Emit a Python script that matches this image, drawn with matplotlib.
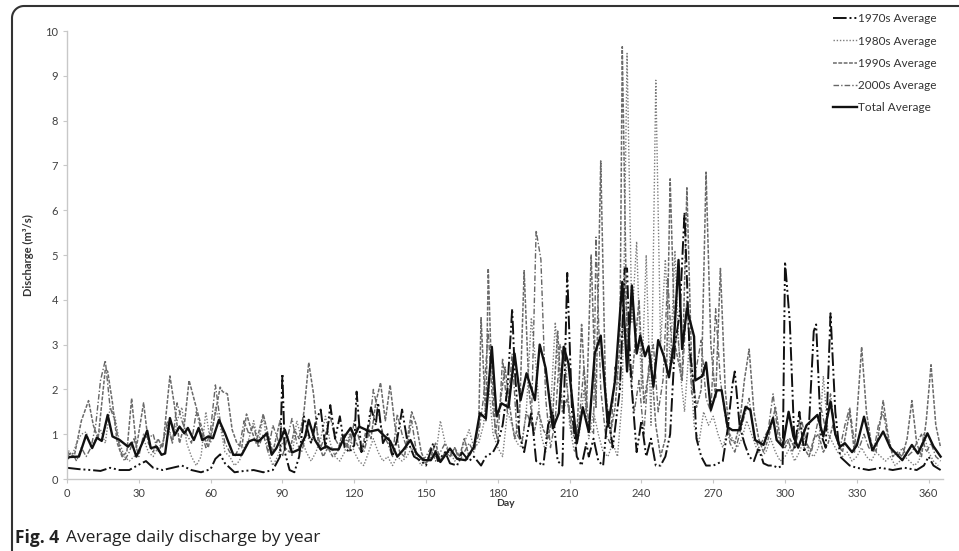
import numpy as np
import matplotlib
matplotlib.use('Agg')
import matplotlib.pyplot as plt
from matplotlib.lines import Line2D

plt.rcParams['font.family'] = ['Lato', 'DejaVu Sans']

# --- data (day, discharge m3/s) at turning points ---
d70 = [0, 5, 10, 14, 18, 22, 26, 30, 33, 36, 40, 44, 48, 52, 56, 60, 62, 64, 66, 70, 74, 78, 82, 86, 89, 90, 91,
       93, 95, 97, 99, 102, 104, 106, 108, 110, 112, 114, 116, 118, 120, 121, 123, 125, 127, 129, 130, 132, 134,
       136, 138, 140, 142, 145, 148, 150, 153, 155, 158, 160, 163, 165, 168, 170, 173, 175, 178, 180, 182, 184,
       186, 187, 189, 191, 194, 196, 199, 201, 203, 205, 207, 209, 211, 213, 215, 217, 218, 220, 222, 224, 226,
       228, 231, 233, 234, 235, 236, 238, 240, 242, 244, 246, 248, 250, 252, 254, 256, 258, 260, 262, 263, 265,
       267, 270, 272, 274, 276, 278, 279, 281, 283, 285, 287, 289, 291, 293, 295, 297, 299, 300, 302, 304, 306,
       308, 310, 312, 313, 315, 317, 319, 321, 323, 325, 327, 330, 335, 340, 345, 350, 355, 358, 360, 362, 365]
v70 = [0.25, 0.22, 0.2, 0.18, 0.25, 0.2, 0.2, 0.32, 0.4, 0.25, 0.2, 0.25, 0.3, 0.2, 0.15, 0.22, 0.45, 0.55, 0.35,
       0.15, 0.18, 0.2, 0.15, 0.2, 0.5, 2.35, 0.6, 0.2, 0.15, 0.5, 1.4, 0.8, 1.3, 1.55, 0.7, 1.65, 0.9, 1.4, 0.7,
       0.6, 0.75, 1.95, 0.6, 0.9, 1.6, 1.2, 1.7, 0.8, 1.0, 0.5, 0.9, 1.55, 0.9, 0.5, 0.4, 0.3, 0.8, 0.4, 0.6,
       0.35, 0.3, 0.6, 0.4, 0.5, 0.3, 0.5, 0.6, 0.8, 1.2, 2.0, 3.8, 2.5, 1.0, 0.6, 1.5, 0.4, 0.3, 1.2, 1.5, 0.4,
       0.3, 4.6, 1.5, 0.5, 0.3, 0.8, 0.5, 0.9, 0.4, 0.3, 1.5, 0.7, 2.0, 4.7, 4.7, 3.0, 2.0, 0.6, 1.3, 0.5, 0.9,
       0.3, 0.3, 0.5, 1.0, 3.0, 3.7, 5.95, 3.0, 2.0, 0.9, 0.5, 0.3, 0.3, 0.35, 0.4, 1.1, 2.1, 2.4, 1.2, 0.8, 0.5,
       0.4, 0.7, 0.35, 0.3, 0.3, 0.25, 0.3, 4.85, 3.5, 0.7, 1.5, 0.6, 1.2, 3.3, 3.45, 1.0, 0.7, 3.7, 1.5, 0.5,
       0.4, 0.3, 0.25, 0.2, 0.25, 0.2, 0.25, 0.2, 0.3, 0.5, 0.3, 0.2]

d80 = list(range(0, 366, 2))
v80 = [0.7, 0.5, 0.8, 1.0, 1.05, 0.7, 0.9, 1.1, 0.8, 1.6, 1.4, 0.8, 0.5, 0.4, 0.5, 0.6, 0.9, 0.6, 0.5, 0.7,
       0.8, 1.2, 0.8, 1.3, 1.6, 0.8, 0.5, 0.3, 0.5, 1.5, 0.8, 1.6, 1.2, 0.6, 0.5, 0.3, 0.4, 0.7, 0.9, 1.3,
       0.8, 1.4, 0.6, 0.3, 0.5, 0.8, 1.0, 0.5, 1.3, 0.9, 0.6, 0.4, 0.6, 0.9, 1.4, 0.8, 0.5, 0.4, 0.6, 1.0,
       0.6, 0.4, 0.3, 0.6, 0.9, 0.6, 0.4, 0.5, 0.3, 0.5, 0.4, 0.5, 0.7, 0.5, 0.3, 0.4, 0.6, 0.5, 1.3, 0.8,
       0.6, 0.4, 0.5, 0.8, 1.1, 0.7, 0.8, 1.2, 2.2, 1.0, 0.7, 0.5, 1.5, 1.2, 0.8, 0.7, 1.6, 3.6, 2.5, 1.0,
       0.6, 1.5, 3.5, 2.0, 3.0, 1.2, 0.6, 1.0, 2.0, 0.9, 1.5, 1.0, 0.6, 0.5, 0.8, 0.5, 1.8, 9.5, 3.5, 5.3,
       2.0, 5.0, 1.2, 8.9, 3.0, 4.9, 2.5, 5.1, 2.5, 1.5, 3.0, 1.2, 0.8, 1.5, 1.2, 1.4, 1.0, 0.7, 1.1, 0.9,
       0.7, 0.9, 1.3, 1.0, 0.7, 0.5, 0.6, 0.9, 0.6, 0.4, 0.5, 0.7, 0.4, 0.6, 0.9, 0.6, 0.5, 0.7, 2.3, 1.0,
       0.8, 0.6, 0.5, 0.6, 0.4, 0.5, 0.7, 0.5, 0.4, 0.6, 0.5, 0.4, 0.5, 0.3, 0.4, 0.5, 0.4, 0.3, 0.4, 1.0,
       0.6, 0.4, 0.3]

d90 = [0, 3, 6, 9, 11, 13, 16, 17, 19, 21, 23, 25, 27, 29, 32, 34, 36, 38, 40, 43, 45, 47, 49, 51, 53, 55, 57,
       59, 61, 64, 65, 67, 69, 71, 73, 75, 77, 79, 82, 84, 86, 89, 91, 93, 95, 97, 99, 101, 103, 105, 107, 109,
       111, 113, 115, 117, 119, 121, 123, 125, 127, 129, 131, 133, 135, 137, 139, 141, 144, 146, 148, 150, 152,
       154, 156, 158, 160, 162, 164, 166, 168, 170, 172, 173, 175, 176, 177, 179, 181, 183, 185, 187, 189, 191,
       193, 195, 197, 199, 201, 203, 205, 207, 209, 211, 213, 215, 217, 219, 221, 223, 225, 227, 229, 231, 232,
       234, 236, 239, 241, 244, 246, 248, 250, 252, 254, 257, 259, 261, 263, 265, 267, 269, 271, 273, 275, 277,
       279, 281, 283, 285, 287, 289, 291, 293, 296, 298, 300, 302, 304, 306, 308, 310, 312, 314, 316, 318, 320,
       322, 324, 327, 329, 332, 334, 336, 338, 341, 343, 345, 347, 349, 351, 353, 355, 357, 359, 361, 363, 365]
v90 = [0.6, 0.5, 1.3, 1.75, 1.2, 0.9, 2.45, 2.4, 1.7, 0.8, 0.5, 0.6, 1.8, 0.7, 1.7, 0.8, 0.6, 0.9, 0.7, 2.3,
       1.6, 0.8, 1.2, 2.2, 1.8, 1.4, 1.0, 0.7, 1.2, 2.05, 1.95, 1.9, 1.1, 0.8, 0.7, 1.45, 1.1, 0.8, 1.45, 1.0,
       0.6, 1.3, 0.7, 0.6, 1.1, 0.9, 1.5, 2.6, 1.9, 0.8, 0.5, 0.7, 0.5, 0.6, 1.0, 0.7, 1.1, 0.8, 0.6, 1.1, 0.9,
       1.7, 2.15, 1.3, 2.1, 1.2, 0.6, 0.5, 1.5, 1.2, 0.6, 0.35, 0.5, 0.8, 0.4, 0.6, 0.5, 0.7, 0.5, 0.9, 0.5,
       0.7, 1.2, 3.6, 1.3, 4.7, 3.0, 1.0, 1.7, 2.5, 1.6, 0.9, 1.3, 4.65, 2.0, 1.0, 1.5, 1.1, 0.9, 1.5, 3.3, 1.5,
       1.8, 1.0, 0.9, 3.45, 1.5, 5.0, 1.6, 7.1, 2.0, 1.0, 1.6, 3.0, 9.65, 3.0, 2.2, 4.0, 1.7, 2.7, 1.2, 0.5,
       0.9, 6.7, 3.0, 2.2, 6.5, 2.5, 1.6, 2.0, 6.85, 3.0, 1.8, 4.7, 2.0, 0.9, 0.8, 1.2, 2.2, 2.9, 1.5, 0.9, 0.6,
       0.9, 1.6, 0.9, 0.7, 0.9, 0.7, 1.3, 0.7, 0.5, 0.9, 1.0, 0.6, 0.8, 1.2, 0.8, 0.6, 1.5, 0.6, 2.95, 1.5,
       0.8, 0.6, 1.75, 1.0, 0.5, 0.6, 0.5, 0.9, 1.75, 0.8, 0.5, 1.3, 2.55, 1.2, 0.7]

d00 = list(range(0, 222, 2)) + list(range(221, 366, 2))
v00 = [0.5, 0.6, 0.4, 0.7, 0.5, 0.7, 1.2, 2.2, 2.65, 1.6, 1.3, 0.7, 0.4, 0.6, 0.9, 0.5, 1.0, 0.9, 1.0, 0.6,
       0.8, 1.3, 0.8, 1.7, 1.3, 1.0, 0.8, 1.5, 1.1, 0.7, 1.1, 2.1, 1.3, 0.8, 0.6, 0.5, 0.7, 1.3, 1.0, 1.2,
       0.7, 1.0, 0.6, 1.2, 0.9, 0.5, 0.9, 1.35, 0.8, 0.6, 1.0, 0.8, 1.2, 0.7, 1.0, 1.4, 0.9, 0.7, 1.0, 0.6,
       1.3, 0.9, 0.6, 1.0, 2.0, 1.5, 1.0, 0.8, 0.5, 1.45, 1.0, 0.7, 1.3, 0.6, 0.4, 0.5, 0.7, 0.4, 0.6, 0.8,
       0.5, 0.7, 0.4, 0.6, 0.8, 0.6, 1.0, 1.8, 3.3, 1.5, 0.8, 2.7, 1.5, 2.8, 1.0, 0.8, 1.5, 1.2, 5.55, 4.9,
       1.8, 0.7, 1.3, 3.0, 2.5, 1.5, 1.0, 1.3, 2.5, 1.2, 1.0,
       5.4, 2.0, 1.0, 0.8, 2.5, 2.0, 4.5, 2.5, 1.5, 2.2, 1.0, 2.5, 3.0, 1.5, 2.2, 4.5, 2.6, 3.3, 2.2, 4.0,
       1.9, 2.5, 3.1, 1.8, 1.5, 3.8, 2.2, 1.4, 0.8, 0.6, 1.0, 1.4, 1.8, 1.0, 0.7, 0.9, 1.1, 1.9, 1.0, 0.7,
       0.9, 0.6, 0.9, 1.3, 0.8, 0.6, 1.1, 1.6, 1.1, 1.9, 1.0, 0.7, 1.2, 1.6, 0.8, 0.7, 1.0, 0.7, 0.6, 1.2,
       1.5, 0.9, 0.6, 0.5, 0.7, 0.5, 0.6, 0.8, 1.0, 0.6, 0.8, 0.5, 0.4]

d_tot = [0, 1, 5, 8, 10.5, 12.5, 14.5, 17, 19, 22, 25.5, 27, 29, 32, 33.5, 35, 37.5, 39.5, 41, 43, 45, 47, 49,
         50.5, 53, 55, 56.5, 59, 61, 63.5, 66, 69.5, 73, 76, 78, 80, 83.5, 85.5, 87.5, 91, 94, 97, 99.5, 101,
         103.5, 106, 108.5, 110.5, 113.5, 116, 118.5, 120, 122, 126.5, 130, 132, 135, 138, 140.5, 143.5, 146,
         149, 152, 154, 156, 160, 163, 166.5, 170, 172.5, 175, 177.5, 179.5, 181.5, 184.5, 187, 189.5, 192,
         195.5, 197.5, 200, 203, 205.5, 207.5, 209.5, 213, 215.5, 218, 220.5, 223, 226, 229, 232, 234, 236,
         238, 239.5, 241.5, 243, 245, 247, 249.5, 251.5, 253.5, 255.5, 257, 259, 262, 262.5, 265.5, 267, 269,
         271.5, 273.5, 276, 278, 281, 283.5, 285.5, 287.5, 291, 295, 296.5, 299, 301.5, 303.5, 305.5, 309,
         313.5, 316, 319, 321, 323, 325, 328, 330, 333, 336.5, 341, 344, 349, 353, 355.5, 359.5, 362, 365]
v_tot = [0.45, 0.49, 0.5, 0.98, 0.69, 0.92, 0.85, 1.43, 0.95, 0.87, 0.72, 0.81, 0.5, 0.87, 1.08, 0.69, 0.72,
         0.54, 0.57, 1.36, 0.98, 1.17, 1.02, 1.14, 0.87, 1.14, 0.87, 0.95, 0.91, 1.32, 1.02, 0.54, 0.54, 0.84,
         0.88, 0.84, 1.02, 0.54, 0.69, 1.1, 0.59, 0.66, 0.95, 1.32, 0.88, 0.66, 0.73, 0.66, 0.66, 0.95, 1.14,
         0.95, 1.17, 1.06, 1.1, 0.99, 0.85, 0.5, 0.65, 0.87, 0.57, 0.42, 0.42, 0.6, 0.38, 0.68, 0.45, 0.42,
         0.71, 1.47, 1.35, 2.95, 1.4, 1.69, 1.6, 2.8, 1.76, 2.36, 1.76, 3.0, 2.47, 1.13, 1.47, 2.95, 2.58, 0.8,
         1.6, 1.05, 2.8, 3.2, 1.17, 2.2, 4.4, 2.4, 4.32, 2.8, 3.2, 2.74, 2.96, 2.06, 3.1, 2.72, 2.27, 3.0, 4.89,
         2.9, 3.8, 3.18, 2.2, 2.3, 2.6, 1.54, 1.98, 1.98, 1.16, 1.09, 1.09, 1.61, 1.54, 0.87, 0.76, 1.36, 0.87,
         0.72, 1.5, 0.95, 0.7, 1.2, 1.43, 0.95, 1.73, 1.0, 0.72, 0.8, 0.6, 0.75, 1.39, 0.64, 1.06, 0.7, 0.42,
         0.76, 0.57, 1.02, 0.73, 0.5]

fig = plt.figure(figsize=(9.59, 5.51), dpi=100)
ax = fig.add_axes([67 / 959, 72 / 551, 876 / 959, 448 / 551])

ax.plot(d80, v80, color='#7c7c7c', lw=1.0, dashes=(1, 1.3), label='1980s Average')
ax.plot(d00, v00, color='#666666', lw=1.0, dashes=(4, 1.5, 1, 1.5), label='2000s Average')
ax.plot(d90, v90, color='#6a6a6a', lw=1.1, dashes=(2.5, 1), label='1990s Average')
ax.plot(d70, v70, color='#111111', lw=1.4, dashes=(7, 1.5, 1, 1.5, 1, 1.5), label='1970s Average')
ax.plot(d_tot, v_tot, color='#111111', lw=1.7, label='Total Average')

ax.set_xlim(0, 366)
ax.set_ylim(0, 10)
ax.set_xticks(range(0, 361, 30))
ax.set_yticks(range(0, 11))
for s in ['top', 'right']:
    ax.spines[s].set_visible(False)
for s in ['left', 'bottom']:
    ax.spines[s].set_color('#c8c8c8')
    ax.spines[s].set_linewidth(1.0)
ax.tick_params(colors='#c8c8c8', labelcolor='#404040', labelsize=8, length=3)
ax.set_xlabel('Day', fontsize=7.5, fontweight='bold', color='#333333', labelpad=0)
ax.set_ylabel('Discharge (m³/s)', fontsize=8, fontweight='bold', color='#333333', labelpad=8)

# legend in the order of the reference
handles, labels = ax.get_legend_handles_labels()
order = ['1970s Average', '1980s Average', '1990s Average', '2000s Average', 'Total Average']
hl = dict(zip(labels, handles))
ax.legend([hl[k] for k in order], order, loc='upper right', bbox_to_anchor=(1.005, 1.063),
          frameon=False, fontsize=8.5, handlelength=2.0, handletextpad=0.1, labelspacing=0.95,
          labelcolor='#333333')

# rounded frame around the figure panel
r = 12
th = np.linspace(np.pi, np.pi / 2, 20)
px = np.concatenate([[12], 12 + r + r * np.cos(th), [959]])
py = np.concatenate([[560], 6 + r - r * np.sin(th), [6]])
fig.add_artist(Line2D(px / 959, 1 - py / 551, color='#333333', lw=1.5, transform=fig.transFigure))

fig.text(15 / 959, 1 - 538 / 551, 'Fig. 4', fontsize=12.5, fontweight='bold', color='#222222',
         family=['Open Sans', 'DejaVu Sans'], va='center')
fig.text(66 / 959, 1 - 538 / 551, 'Average daily discharge by year', fontsize=12.5, color='#222222',
         family=['Open Sans', 'DejaVu Sans'], va='center')

fig.savefig('out.png', dpi=100)
